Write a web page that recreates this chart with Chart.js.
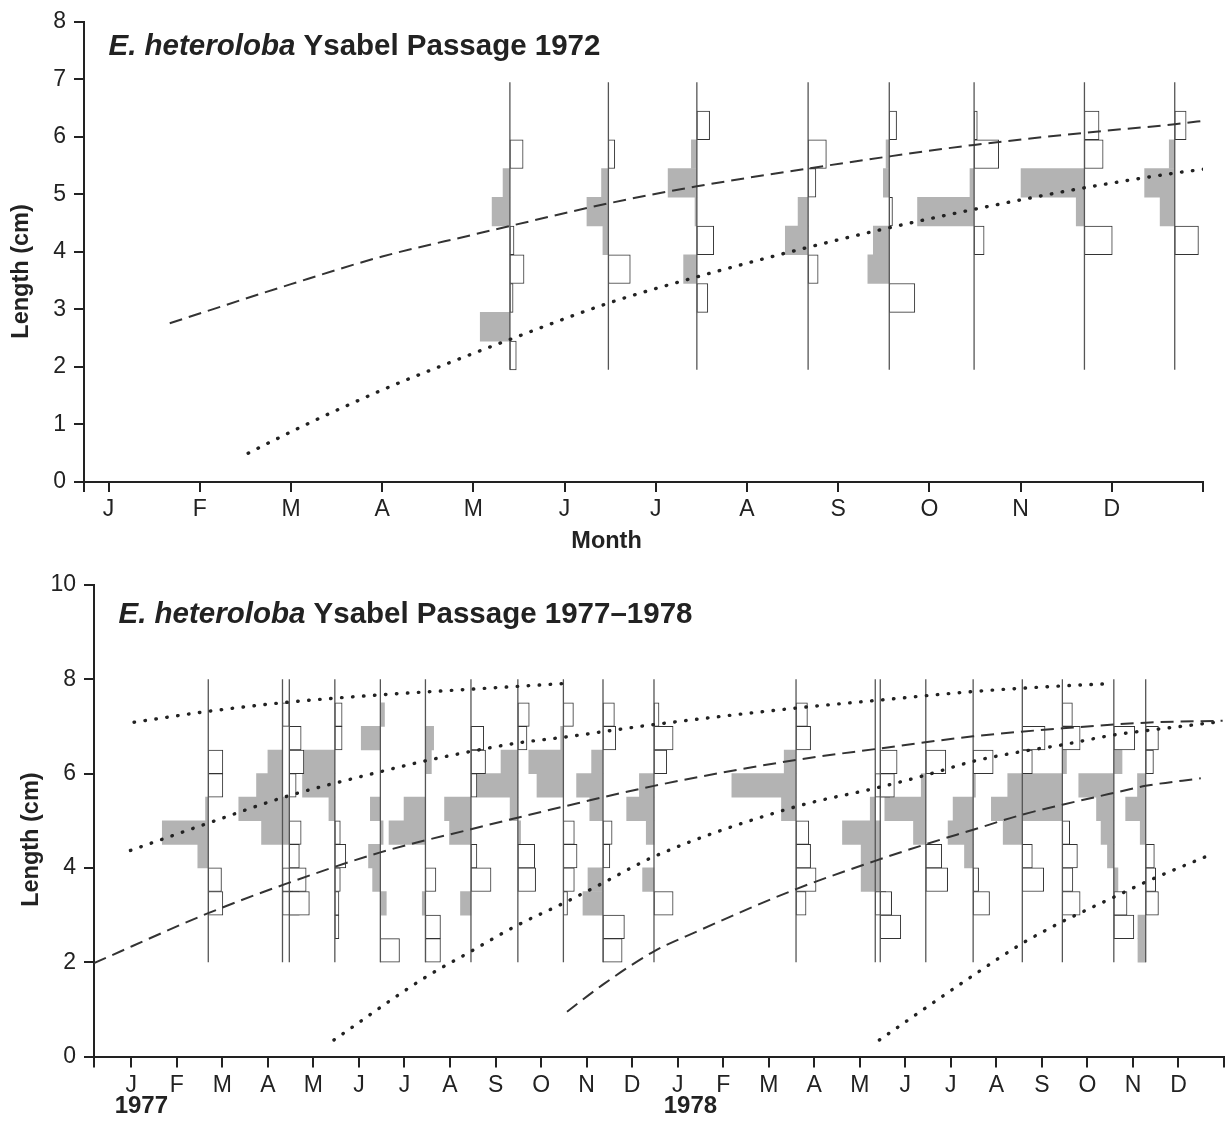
<!DOCTYPE html>
<html>
<head>
<meta charset="utf-8">
<script src="https://cdn.jsdelivr.net/npm/chart.js"></script>
<style>
  body { margin: 0; background: #fff; }
  canvas { display: block; }
</style>
</head>
<body>
<canvas id="chart72" width="1228" height="560"></canvas>
<canvas id="chart78" width="1228" height="569"></canvas>
<script>
var MONTHS = ['J', 'F', 'M', 'A', 'M', 'J', 'J', 'A', 'S', 'O', 'N', 'D'];

// ---- 1972 (x in months from 1 Jan, y in cm) ----
var BINS_72 = [2.0, 2.5, 3.0, 3.5, 4.0, 4.5, 5.0, 5.5, 6.0];
var DATES_72 = [4.40, 5.48, 6.45, 7.67, 8.56, 9.49, 10.70, 11.69];
// frequency per length bin; grey is drawn left of the sample line, white right
var GREY_72 = [
  [0, 6.5, 0, 0, 0, 3.9, 1.5, 0, 0],
  [0, 0, 0, 0, 1.2, 4.7, 1.5, 0, 0],
  [0, 0, 0, 2.9, 0, 0.4, 6.3, 1.2, 0],
  [0, 0, 0, 0, 5.0, 2.2, 0, 0, 0],
  [0, 0, 0, 4.7, 3.5, 0, 1.3, 0.7, 0],
  [0, 0, 0, 0, 0, 12.4, 0.9, 0, 0],
  [0, 0, 0, 0, 0, 1.8, 13.9, 0, 0],
  [0, 0, 0, 0, 0, 3.2, 6.6, 1.2, 0]
];
var WHITE_72 = [
  [1.4, 0, 0.7, 3.1, 0.9, 0, 0, 2.9, 0],
  [0, 0, 0, 4.8, 0, 0, 0, 1.4, 0],
  [0, 0, 2.4, 0, 3.7, 0, 0, 0, 2.8],
  [0, 0, 0, 2.2, 0, 0, 1.7, 4.0, 0],
  [0, 0, 5.6, 0, 0, 0.7, 0, 0, 1.6],
  [0, 0, 0, 0, 2.2, 0, 0, 5.4, 0.7],
  [0, 0, 0, 0, 6.1, 0, 0, 4.1, 3.2],
  [0, 0, 0, 0, 5.2, 0, 0, 0, 2.5]
];
var DASH_72_X = [0.67, 2.0, 3.0, 4.0, 4.4, 5.5, 6.45, 7.67, 8.56, 9.49, 10.70, 11.69, 12.06];
var DASH_72_Y = [2.76, 3.44, 3.92, 4.30, 4.45, 4.85, 5.14, 5.45, 5.66, 5.86, 6.07, 6.22, 6.29];
var DOT_72_X = [1.53, 2.1, 3.0, 3.7, 4.37, 5.5, 6.37, 7.62, 8.56, 9.49, 10.65, 11.69, 12.07];
var DOT_72_Y = [0.50, 0.95, 1.60, 2.05, 2.46, 3.12, 3.53, 4.06, 4.42, 4.74, 5.10, 5.37, 5.45];

// ---- 1977-1978 (x in months from 1 Jan 1977) ----
var BINS_78 = [2.0, 2.5, 3.0, 3.5, 4.0, 4.5, 5.0, 5.5, 6.0, 6.5, 7.0];
var DATES_78 = [1.69, 3.32, 3.47, 4.47, 5.47, 6.46, 7.46, 8.49, 9.49, 10.36,
                11.48, 14.60, 16.34, 16.45, 17.45, 18.49, 19.57, 20.45, 21.58, 22.28];
var GREY_78 = [
  [0, 0, 0, 0, 2.3, 10.1, 0.6, 0, 0, 0, 0],
  [0, 0, 0, 0, 0, 0, 0, 5.7, 3.2, 0, 0],
  [0, 0, 0, 0, 0, 6.1, 11.1, 0, 0, 0, 0],
  [0, 0, 0, 0, 0, 0, 1.3, 7.1, 6.8, 0, 0],
  [0, 0, -1.3, 1.7, 2.6, -0.6, 2.2, 0, 0, 4.2, -0.9],
  [0, 0, 0.7, 0, 0, 8.0, 4.7, 0, -1.3, -1.8, 0],
  [0, 0, 2.3, 0, 0, 4.7, 5.8, 0, 0, 0, 0],
  [0, 0, 0, 0, 0, -0.6, 1.7, 9.0, 3.7, 0, 0],
  [0, 0, 0, 0, 0, 0, 0, 5.8, 7.6, 0.6, 0],
  [0, 0, 4.4, 3.3, 0, 0, 2.9, 5.8, 2.5, 0, 0],
  [0, 0, 0, 2.5, 0, 1.7, 6.0, 3.2, 0, 0, 0],
  [0, 0, 0, 0, 0, 0, 3.2, 14.1, 2.6, 0, 0],
  [0, 0, 0, 0, 0, 0, 1.1, 0, 0, 0, 0],
  [0, 0, 0, 4.2, 4.2, 8.3, 0, 0, 0, 0, 0],
  [0, 0, 0, 0, 0, 2.7, 9.0, 1.0, 0, 0, 0],
  [0, 0, 0, 0, 1.9, 5.5, 4.4, -0.5, 0, 0, 0],
  [0, 0, 0, 0, 0, 4.2, 6.8, 3.2, 0, 0, 0],
  [0, 0, 0, 0, 0, 0, 8.8, 8.8, -0.9, 0, 0],
  [0, 0, 0, -0.9, 1.4, 2.8, 3.8, 7.7, -1.8, 0, 0],
  [1.7, 1.7, 0, 0, 0, 1.2, 4.4, 1.8, 0, 0, 0]
];
var WHITE_78 = [
  [0, 0, 3.2, 2.9, 0, 0, 0, 3.2, 3.2, 0, 0],
  [0, 0, 3.7, 2.2, 0, 0, 0, 0, 0, 0, 1.5],
  [0, 0, 4.4, 3.7, 2.2, 2.6, 0, 1.5, 3.2, 2.6, 0],
  [0, 0.9, 0.9, 1.2, 2.4, 1.2, 0, 0, 0, 1.6, 1.6],
  [4.2, 0, 0, 0, 0, 0, 0, 0, 0, 0, 0],
  [3.3, 3.3, 0, 2.3, 0, 0, 0, 0, 0, 0, 0],
  [0, 0, 0, 4.4, 1.3, 0, 0, 1.3, 3.2, 2.8, 0],
  [0, 0, 0, 3.9, 3.7, 0, 0, 0, 0, 2.0, 2.5],
  [0, 0, 0.9, 2.4, 3.0, 2.4, 0, 0, 0, 0, 2.2],
  [4.2, 4.7, 0, 0, 1.5, 2.0, 0, 0, 0, 2.8, 2.5],
  [0, 0, 4.2, 0, 0, 0, 0, 0, 2.8, 4.2, 1.1],
  [0, 0, 2.2, 4.4, 3.2, 2.8, 0, 0, 0, 3.2, 2.5],
  [0, 0, 2.3, 0, 0, 0, 0, 3.2, 0, 0, 0],
  [0, 4.5, 2.5, 0, 0, 0, 0, 3.1, 3.7, 0, 0],
  [0, 0, 0, 4.8, 3.5, 0, 0, 0, 4.4, 0, 0],
  [0, 0, 3.6, 1.2, 0, 0, 0, 0, 4.4, 0, 0],
  [0, 0, 0, 4.7, 2.2, 0, 0, 0, 2.2, 5.0, 0],
  [0, 0, 3.9, 2.3, 3.3, 1.6, 0, 0, 0, 3.9, 2.2],
  [0, 4.4, 2.9, 0, 0, 0, 0, 0, 0, 4.6, 0],
  [0, 0, 2.8, 2.2, 1.9, 0, 0, 0, 1.7, 2.8, 0]
];
var DOT_A_X = [0.06, 1.69, 3.39, 5.47, 7.46, 9.49];
var DOT_A_Y = [7.09, 7.32, 7.51, 7.67, 7.79, 7.91];
var DOT_B_X = [-0.02, 1.69, 3.39, 5.47, 6.46, 7.46, 8.49, 9.49, 11.48, 14.60, 16.34, 18.49, 20.45, 21.34];
var DOT_B_Y = [4.37, 4.95, 5.51, 6.04, 6.27, 6.47, 6.65, 6.77, 7.04, 7.39, 7.55, 7.74, 7.86, 7.90];
var DOT_C_X = [4.45, 6.41, 7.46, 8.49, 9.49, 10.36, 11.48, 14.60, 16.34, 17.46, 18.49, 19.57, 20.45, 21.58, 22.28, 23.82];
var DOT_C_Y = [0.35, 1.65, 2.23, 2.79, 3.25, 3.68, 4.24, 5.30, 5.69, 5.97, 6.26, 6.47, 6.61, 6.82, 6.91, 7.09];
var DOT_D_X = [16.43, 18.43, 19.57, 20.45, 21.58, 22.28, 23.75];
var DOT_D_Y = [0.35, 1.68, 2.40, 2.86, 3.38, 3.70, 4.30];
var DASH_A_X = [-0.82, 1.69, 3.39, 5.47, 7.46, 9.49, 11.48, 14.60, 16.34, 18.49, 20.45, 22.28, 23.97];
var DASH_A_Y = [1.98, 3.04, 3.66, 4.33, 4.82, 5.30, 5.74, 6.29, 6.52, 6.79, 6.96, 7.08, 7.12];
var DASH_B_X = [9.57, 10.38, 11.48, 12.42, 14.60, 16.34, 17.41, 18.49, 19.57, 20.45, 21.58, 22.28, 23.49];
var DASH_B_Y = [0.95, 1.54, 2.23, 2.65, 3.55, 4.15, 4.49, 4.81, 5.13, 5.34, 5.59, 5.74, 5.90];

var FONT = '"Liberation Sans", Arial, sans-serif';
Chart.defaults.font.family = FONT;
Chart.defaults.color = '#222';

function histBars(dates, freqs, bins, shift, perUnit, side) {
  var pts = [];
  dates.forEach(function (d, i) {
    freqs[i].forEach(function (f, j) {
      if (!f) return;
      pts.push({ y: bins[j] + shift + 0.25, x: [d, d + side * f * perUnit] });
    });
  });
  return pts;
}

function stems(dates, lo, hi) {
  var pts = [];
  dates.forEach(function (d) {
    pts.push({ x: d, y: lo }, { x: d, y: hi }, { x: d, y: null });
  });
  return pts;
}

function curve(xs, ys) {
  return xs.map(function (x, i) { return { x: x, y: ys[i] }; });
}

function dashed(xs, ys) {
  return { type: 'line', data: curve(xs, ys), borderColor: '#333', borderWidth: 2,
    borderDash: [13, 7], pointRadius: 0, cubicInterpolationMode: 'monotone', order: 0 };
}
function dotted(xs, ys) {
  return { type: 'line', data: curve(xs, ys), borderColor: '#222', borderWidth: 3.4,
    borderDash: [0.5, 10.5], borderCapStyle: 'round', pointRadius: 0,
    cubicInterpolationMode: 'monotone', order: 0 };
}

function histDatasets(dates, grey, white, bins, shift, perUnit, lo, hi) {
  var bar = { type: 'bar', indexAxis: 'y', grouped: false, barPercentage: 1, categoryPercentage: 1 };
  return [
    Object.assign({}, bar, { data: histBars(dates, grey, bins, shift, perUnit, -1),
      backgroundColor: '#b3b3b3', borderWidth: 0, order: 4 }),
    Object.assign({}, bar, { data: histBars(dates, white, bins, shift, perUnit, 1),
      backgroundColor: '#fff', borderColor: '#333', borderWidth: 1, borderSkipped: false, order: 3 }),
    { type: 'line', data: stems(dates, lo, hi), borderColor: '#555', borderWidth: 1.3,
      pointRadius: 0, spanGaps: false, order: 2 }
  ];
}

function monthAxis(min, months, tickLen, height) {
  return {
    type: 'linear', min: min, max: months, offset: false,
    afterBuildTicks: function (scale) {
      var t = [{ value: min }];
      for (var m = 0; m <= months; m++) t.push({ value: m });
      scale.ticks = t;
    },
    afterFit: function (scale) { scale.height = height; },
    ticks: {
      autoSkip: false, maxRotation: 0, padding: 4, font: { size: 23 },
      callback: function (v) { return (Number.isInteger(v) && v >= 0 && v < months) ? MONTHS[v % 12] : ''; }
    },
    grid: { drawOnChartArea: false, offset: false, tickLength: tickLen, color: '#222', lineWidth: 2 },
    border: { color: '#222', width: 2 }
  };
}

function lengthAxis(max, step, width) {
  return {
    type: 'linear', min: 0, max: max, offset: false,
    afterFit: function (scale) { scale.width = width; },
    ticks: { stepSize: step, padding: 8, font: { size: 23 } },
    grid: { drawOnChartArea: false, offset: false, tickLength: 10, color: '#222', lineWidth: 2 },
    border: { color: '#222', width: 2 }
  };
}

// titles, axis names and year labels
var textPlugin = {
  id: 'texts',
  afterDraw: function (chart, args, o) {
    var ctx = chart.ctx, area = chart.chartArea, xs = chart.scales.x, ys = chart.scales.y;
    ctx.save();
    ctx.fillStyle = '#222';
    ctx.textBaseline = 'alphabetic';
    var x = area.left + o.titleDx, y = area.top + o.titleDy;
    ctx.font = 'italic bold 29.5px ' + FONT;
    ctx.fillText('E. heteroloba', x, y);
    x += ctx.measureText('E. heteroloba').width;
    ctx.font = 'bold 29.5px ' + FONT;
    ctx.fillText(' ' + o.title, x, y);

    ctx.font = 'bold 23.5px ' + FONT;
    ctx.save();
    ctx.translate(o.yTitleX, ys.getPixelForValue(o.yTitleAt));
    ctx.rotate(-Math.PI / 2);
    ctx.textAlign = 'center';
    ctx.textBaseline = 'middle';
    ctx.fillText('Length (cm)', 0, 0);
    ctx.restore();

    ctx.textAlign = 'center';
    if (o.xTitle) {
      ctx.fillText(o.xTitle, xs.getPixelForValue(o.xTitleAt), o.xTitleY);
    }
    (o.years || []).forEach(function (yr, i) {
      ctx.font = 'bold 24px ' + FONT;
      ctx.fillText(yr, xs.getPixelForValue(o.yearAt[i]), o.yearY);
    });
    ctx.restore();
  }
};

function baseOptions(padding, xAxis, yAxis, texts) {
  return {
    responsive: false, animation: false, devicePixelRatio: 1,
    layout: { padding: padding },
    plugins: { legend: { display: false }, tooltip: { enabled: false }, texts: texts },
    scales: { x: xAxis, y: yAxis }
  };
}

new Chart(document.getElementById('chart72'), {
  type: 'scatter',
  data: {
    datasets: histDatasets(DATES_72, GREY_72, WHITE_72, BINS_72, -0.05, 0.05, 1.95, 6.95).concat([
      dashed(DASH_72_X, DASH_72_Y),
      dotted(DOT_72_X, DOT_72_Y)
    ])
  },
  options: baseOptions({ left: 0, right: 25, top: 17, bottom: 0 },
    monthAxis(-0.27, 12, 10, 78), lengthAxis(8, 1, 84),
    { title: 'Ysabel Passage 1972', titleDx: 24.5, titleDy: 33, yTitleX: 22, yTitleAt: 3.66,
      xTitle: 'Month', xTitleAt: 5.46, xTitleY: 548 }),
  plugins: [textPlugin]
});

new Chart(document.getElementById('chart78'), {
  type: 'scatter',
  data: {
    datasets: histDatasets(DATES_78, GREY_78, WHITE_78, BINS_78, 0, 0.1, 2.0, 8.0).concat([
      dashed(DASH_A_X, DASH_A_Y),
      dashed(DASH_B_X, DASH_B_Y),
      dotted(DOT_A_X, DOT_A_Y),
      dotted(DOT_B_X, DOT_B_Y),
      dotted(DOT_C_X, DOT_C_Y),
      dotted(DOT_D_X, DOT_D_Y)
    ])
  },
  options: baseOptions({ left: 0, right: 2, top: 25, bottom: 0 },
    monthAxis(-0.82, 24, 11, 72.5), lengthAxis(10, 2, 94),
    { title: 'Ysabel Passage 1977\u20131978', titleDx: 24.5, titleDy: 37.5, yTitleX: 32, yTitleAt: 4.6,
      years: ['1977', '1978'], yearAt: [0.22, 12.28], yearY: 553 }),
  plugins: [textPlugin]
});
</script>
</body>
</html>
